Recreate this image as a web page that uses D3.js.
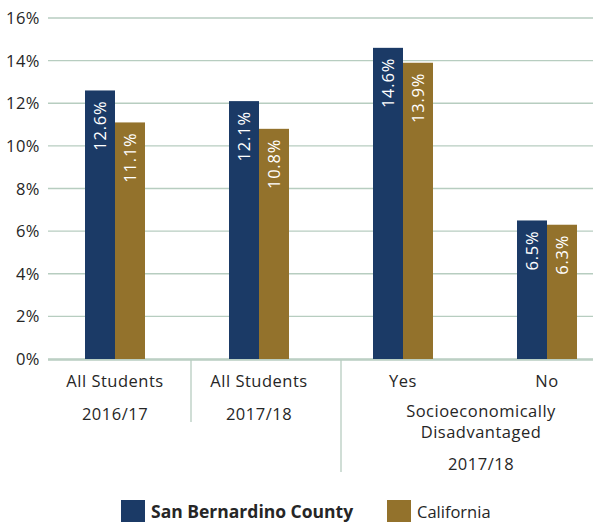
<!DOCTYPE html>
<html><head><meta charset="utf-8">
<script src="https://cdn.jsdelivr.net/npm/d3@7"></script>
<style>body{margin:0;background:#fff}svg{display:block}text{font-family:"Open Sans",sans-serif}</style>
</head><body><svg id="c" width="593" height="522"></svg>
<script>
const categories = ["All Students|2016/17", "All Students|2017/18", "Yes", "No"];
const topLabels = ["All Students", "All Students", "Yes", "No"];
const series = ["San Bernardino County", "California"];
const sbValues = [12.6, 12.1, 14.6, 6.5];
const caValues = [11.1, 10.8, 13.9, 6.3];
const yTicks = [0, 2, 4, 6, 8, 10, 12, 14, 16];
const colors = ["#1b3a66", "#93722c"];

const svg = d3.select("#c");
const y = d3.scaleLinear().domain([0, 16]).range([359, 18]);
const x = d3.scaleBand().domain(categories).range([43, 619]);
const xs = d3.scaleBand().domain(series).range([0, 60]);
const grid = "#b7cdc0";
const txt = "#262626";
const cxOf = c => x(c) + x.bandwidth() / 2;

// gridlines
svg.append("g").selectAll("line").data(yTicks).join("line")
  .attr("x1", 48).attr("x2", 593).attr("y1", d => y(d)).attr("y2", d => y(d))
  .attr("stroke", grid).attr("stroke-width", 1.3);
// y labels
svg.append("g").selectAll("text").data(yTicks).join("text")
  .attr("x", 40).attr("y", d => y(d) + 6).attr("text-anchor", "end")
  .attr("font-size", 16.5).attr("letter-spacing", 0.5).attr("fill", txt).text(d => d + "%");

const data = categories.map((c, i) => ({c, vals: [sbValues[i], caValues[i]]}));
const g = svg.append("g");
data.forEach(d => {
  d.vals.forEach((v, j) => {
    const bx = cxOf(d.c) - 30 + xs(series[j]);
    g.append("rect").attr("x", bx).attr("y", y(v)).attr("width", xs.bandwidth())
      .attr("height", y(0) - y(v)).attr("fill", colors[j]);
    const cx = bx + xs.bandwidth() / 2 + 6;
    const ty = y(v) + 10;
    g.append("text").attr("transform", `translate(${cx},${ty}) rotate(-90)`)
      .attr("text-anchor", "end").attr("font-size", 16.5).attr("letter-spacing", 0.8)
      .attr("fill", "#fff").text(v.toFixed(1) + "%");
  });
});

// x axis line
svg.append("line").attr("x1", 48).attr("x2", 593).attr("y1", 360).attr("y2", 360)
  .attr("stroke", grid).attr("stroke-width", 1.3);
// separators
const sep1 = cxOf(categories[1]) - 68;
const sep2 = cxOf(categories[2]) - 62;
svg.append("line").attr("x1", sep1).attr("x2", sep1).attr("y1", 360).attr("y2", 422).attr("stroke", grid).attr("stroke-width", 1.3);
svg.append("line").attr("x1", sep2).attr("x2", sep2).attr("y1", 360).attr("y2", 472).attr("stroke", grid).attr("stroke-width", 1.3);

const lab = svg.append("g").attr("font-size", 16.5).attr("letter-spacing", 0.5).attr("text-anchor", "middle");
categories.forEach((c, i) => {
  lab.append("text").attr("x", cxOf(c)).attr("y", 387).attr("fill", txt).text(topLabels[i]);
});
lab.append("text").attr("x", cxOf(categories[0])).attr("y", 420).attr("fill", txt).text("2016/17");
lab.append("text").attr("x", cxOf(categories[1])).attr("y", 420).attr("fill", txt).text("2017/18");
const midG = (cxOf(categories[2]) + cxOf(categories[3])) / 2 + 6;
lab.append("text").attr("x", midG).attr("y", 417).attr("fill", txt).text("Socioeconomically");
lab.append("text").attr("x", midG).attr("y", 438).attr("fill", txt).text("Disadvantaged");
lab.append("text").attr("x", midG).attr("y", 470).attr("fill", txt).text("2017/18");

// legend
const leg = svg.append("g");
const legX = [121, 387];
series.forEach((s, i) => {
  leg.append("rect").attr("x", legX[i]).attr("y", 500).attr("width", 24).attr("height", 22).attr("fill", colors[i]);
  leg.append("text").attr("x", legX[i] + 30).attr("y", 518).attr("font-size", i === 0 ? 17.5 : 16.5)
    .attr("font-weight", i === 0 ? "bold" : "normal").attr("fill", txt).text(s);
});
</script></body></html>
